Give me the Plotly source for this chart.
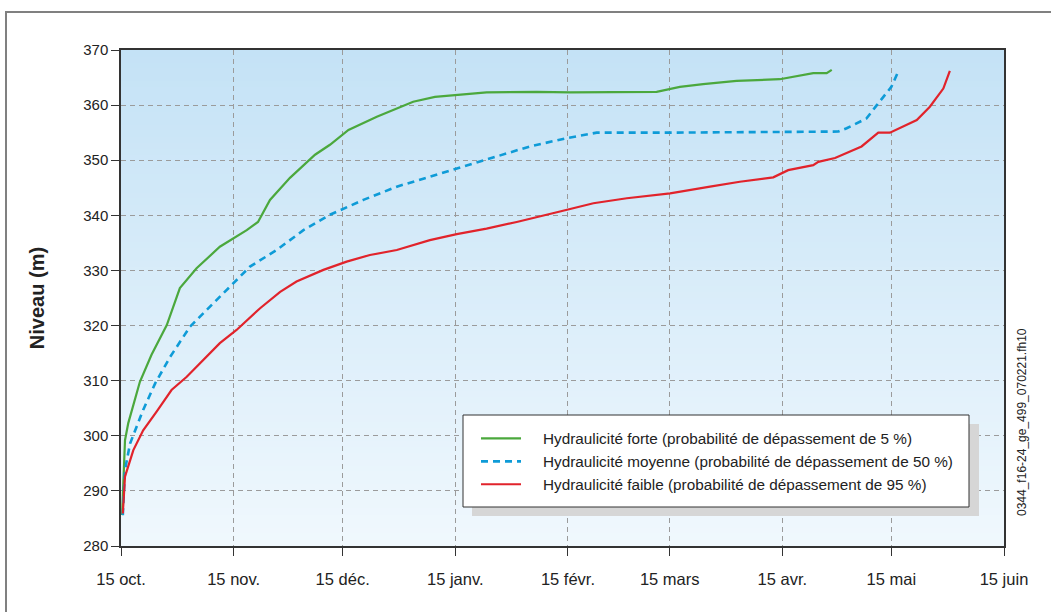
import plotly.graph_objects as go
import pandas as pd

# ---------------- data ----------------
start_date = "2006-10-15"
x_tick_dates = ["2006-10-15", "2006-11-15", "2006-12-15", "2007-01-15", "2007-02-15",
                "2007-03-15", "2007-04-15", "2007-05-15", "2007-06-15"]
x_tick_labels = ["15 oct.", "15 nov.", "15 déc.", "15 janv.", "15 févr.",
                 "15 mars", "15 avr.", "15 mai", "15 juin"]
y_ticks = [280, 290, 300, 310, 320, 330, 340, 350, 360, 370]

series_names = [
    "Hydraulicité forte (probabilité de dépassement de 5 %)",
    "Hydraulicité moyenne (probabilité de dépassement de 50 %)",
    "Hydraulicité faible (probabilité de dépassement de 95 %)",
]

# days after 15 oct. / level (m)
forte_days = [0.3, 1.1, 2.0, 5.2, 8.4, 12.6, 16.2, 20.8, 27.2, 34.6, 37.7, 41.0, 46.5, 53.4,
              57.5, 62.6, 70.4, 80.4, 86.4, 91.9, 100.6, 114.4, 123.6, 147.4, 153.8, 160.2,
              169.4, 181.3, 186.8, 190.5, 194.2, 195.6]
forte_vals = [285.6, 299.2, 302.3, 309.8, 314.7, 320.1, 326.8, 330.4, 334.3, 337.3, 338.8,
              342.8, 346.8, 351.0, 352.8, 355.5, 357.9, 360.6, 361.5, 361.8, 362.3, 362.4,
              362.3, 362.4, 363.3, 363.8, 364.4, 364.7, 365.3, 365.8, 365.8, 366.4]

moyenne_days = [0.5, 1.1, 2.5, 6.1, 9.4, 13.5, 19.0, 24.5, 30.9, 35.5, 42.8, 50.2, 57.5,
                66.7, 75.9, 85.0, 91.9, 101.5, 112.5, 122.6, 130.9, 150.0, 170.0, 197.4,
                199.7, 205.2, 208.0, 212.0, 213.9]
moyenne_vals = [285.6, 293.8, 298.6, 304.7, 309.5, 314.3, 319.8, 323.4, 327.7, 330.7, 333.7,
                337.3, 340.1, 342.8, 345.2, 347.0, 348.5, 350.4, 352.5, 354.0, 355.0, 355.0,
                355.1, 355.2, 355.8, 357.6, 360.0, 363.3, 366.1]

faible_days = [0.5, 1.1, 3.4, 6.1, 9.8, 13.9, 18.1, 23.6, 27.2, 31.8, 38.2, 43.8, 48.3, 55.7,
               62.1, 68.5, 75.9, 85.0, 92.4, 100.6, 108.9, 120.8, 130.0, 139.2, 151.1, 162.1,
               170.3, 179.5, 183.6, 190.5, 191.9, 196.5, 203.8, 208.4, 211.6, 219.0, 222.6,
               226.3, 228.1]
faible_vals = [285.9, 292.6, 297.4, 301.0, 304.4, 308.3, 310.7, 314.3, 316.8, 319.2, 323.1,
               326.1, 328.0, 330.1, 331.6, 332.8, 333.7, 335.5, 336.6, 337.6, 338.8, 340.7,
               342.2, 343.1, 344.0, 345.2, 346.1, 346.9, 348.2, 349.1, 349.7, 350.4, 352.5,
               355.0, 355.0, 357.3, 359.7, 363.0, 366.2]

file_code = "0344_f16-24_ge_499_070221.fh10"

# ---------------- figure ----------------
W, H = 1051, 612
ML, MR, MT, MB = 121, 47, 50, 66
PW, PH = W - ML - MR, H - MT - MB


def px(xp):
    return (xp - ML) / PW


def py(yp):
    return (H - MB - yp) / PH


t0 = pd.Timestamp(start_date)


def to_dates(days):
    return [t0 + pd.Timedelta(days=d) for d in days]


FONT = "Liberation Sans, Arial, sans-serif"
colors = ["#4ba83d", "#0e9bd7", "#e1232b"]
dashes = ["solid", "7px,5px", "solid"]
widths = [2.2, 2.6, 2.2]
all_days = [forte_days, moyenne_days, faible_days]
all_vals = [forte_vals, moyenne_vals, faible_vals]
PAD = "\u00a0" * 4

fig = go.Figure()
for i in range(3):
    fig.add_trace(go.Scatter(
        x=to_dates(all_days[i]), y=all_vals[i], mode="lines", name=PAD + series_names[i],
        line=dict(color=colors[i], width=widths[i], dash=dashes[i]),
        legendgroup=f"g{i}",
    ))

shapes = []
# gradient background of the plotting area
n = 80
top_c = (196, 226, 246)
bot_c = (240, 248, 253)
for k in range(n):
    f = (k + 0.5) / n
    c = tuple(round(bot_c[j] + (top_c[j] - bot_c[j]) * f) for j in range(3))
    shapes.append(dict(type="rect", xref="x domain", yref="y domain",
                       x0=0, x1=1, y0=k / n, y1=(k + 1) / n + 0.002,
                       fillcolor="rgb(%d,%d,%d)" % c, line=dict(width=0), layer="below"))
# legend shadow and box
shapes.append(dict(type="rect", xref="paper", yref="paper",
                   x0=px(472), x1=px(979), y0=py(516), y1=py(424),
                   fillcolor="#d6d6d6", line=dict(width=0), layer="above"))
shapes.append(dict(type="rect", xref="paper", yref="paper",
                   x0=px(463), x1=px(969), y0=py(507), y1=py(415),
                   fillcolor="white", line=dict(color="#333333", width=1), layer="above"))
# outer frame
shapes.append(dict(type="rect", xref="paper", yref="paper",
                   x0=px(6), x1=px(1070), y0=py(640), y1=py(12),
                   fillcolor="rgba(0,0,0,0)", line=dict(color="#808080", width=2), layer="above"))

axis_common = dict(
    showgrid=True, gridcolor="#9b9b9b", gridwidth=1, griddash="5px,4px",
    showline=True, linecolor="#333333", linewidth=1.5, mirror=True,
    ticks="outside", ticklen=8, tickcolor="#333333", tickwidth=1.2,
    zeroline=False,
)

fig.update_layout(
    width=W, height=H,
    margin=dict(l=ML, r=MR, t=MT, b=MB, autoexpand=False),
    paper_bgcolor="white", plot_bgcolor="#eaf5fc",
    font=dict(family=FONT, color="#222222"),
    xaxis=dict(type="date", range=[t0, t0 + pd.Timedelta(days=243)],
               tickvals=x_tick_dates, ticktext=x_tick_labels,
               ticklabelstandoff=9, tickfont=dict(family=FONT, size=16.5, color="#222222"),
               **axis_common),
    yaxis=dict(range=[280, 370], tickvals=y_ticks,
               ticklabelstandoff=0, tickfont=dict(family=FONT, size=15, color="#222222"),
               title=dict(text="<b>Niveau (m)</b>", font=dict(family=FONT, size=20, color="#222222"),
                          standoff=33),
               **axis_common),
    shapes=shapes,
    showlegend=True,
    legend=dict(x=px(476), y=py(422), xanchor="left", yanchor="top",
                bgcolor="rgba(0,0,0,0)", borderwidth=0, itemwidth=40,
                tracegroupgap=0, font=dict(family=FONT, size=15.3, color="#222222"),
                itemclick=False, itemdoubleclick=False),
    annotations=[dict(text=file_code, textangle=-90, xref="paper", yref="paper",
                      x=px(1022), y=py(422), xanchor="center", yanchor="middle",
                      showarrow=False,
                      font=dict(family=FONT, size=12, color="#222222"))],
)

fig.write_html("out.html", config={"displayModeBar": False},
               post_script="document.body.style.margin='0';document.body.style.overflow='hidden';")
